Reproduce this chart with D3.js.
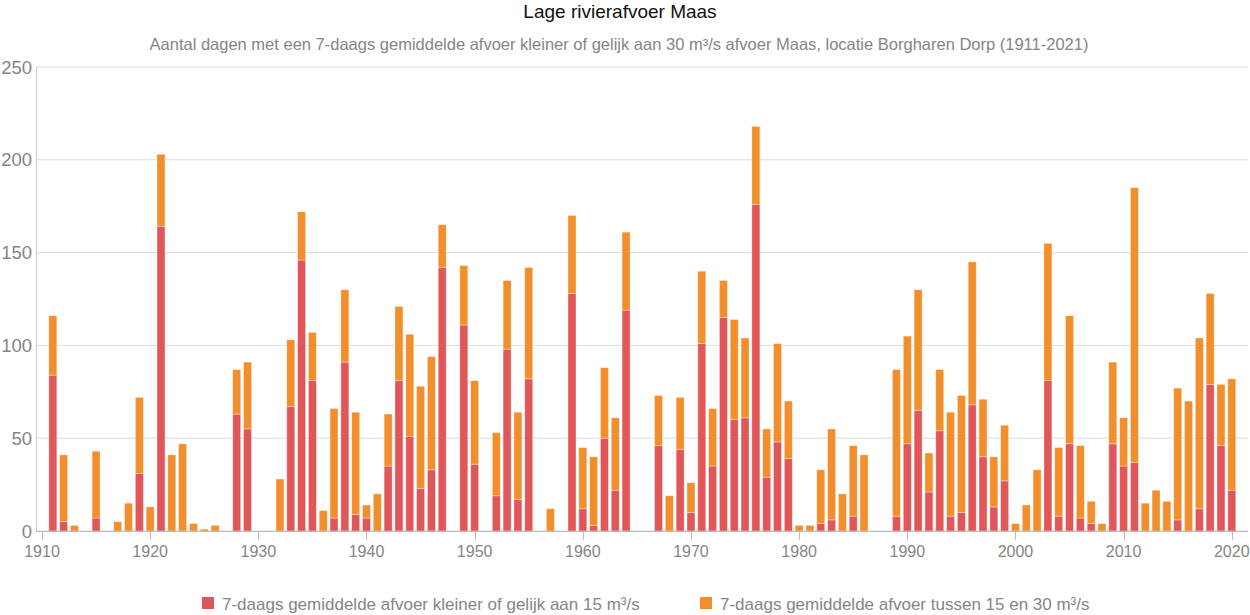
<!DOCTYPE html>
<html><head><meta charset="utf-8">
<script src="https://cdn.jsdelivr.net/npm/d3@7"></script>
<style>body{margin:0;background:#fff;font-family:"Liberation Sans",Arial,sans-serif;}</style>
</head><body><svg id="c" width="1250" height="615"></svg>
<script>
const years = d3.range(1911, 2022);
// totals (days <= 30 m3/s) and red part (days <= 15 m3/s)
const total = [116,41,3,0,43,0,5,15,72,13,203,41,47,4,1,3,0,87,91,0,
0,28,103,172,107,11,66,130,64,14,20,63,121,106,78,94,165,0,143,81,
0,53,135,64,142,0,12,0,170,45,40,88,61,161,0,0,73,19,72,26,
140,66,135,114,104,218,55,101,70,3,3,33,55,20,46,41,0,0,87,105,
130,42,87,64,73,145,71,40,57,4,14,33,155,45,116,46,16,4,91,61,
185,15,22,16,77,70,104,128,79,82,0];
const low = [84,5,0,0,7,0,0,0,31,0,164,0,0,0,0,0,0,63,55,0,
0,0,67,146,81,0,7,91,9,7,0,35,81,51,23,33,142,0,111,36,
0,19,98,17,82,0,0,0,128,12,3,50,22,119,0,0,46,0,44,10,
101,35,115,60,61,176,29,48,39,0,0,4,6,0,8,0,0,0,8,47,
65,21,54,8,10,68,40,13,27,0,0,0,81,8,47,7,4,0,47,35,
37,0,0,0,6,0,12,79,46,22,0];
const mid = total.map((t,i)=>t-low[i]);
const seriesNames = ["7-daags gemiddelde afvoer kleiner of gelijk aan 15 m³/s","7-daags gemiddelde afvoer tussen 15 en 30 m³/s"];
const colors = ["#e15759","#f28e2b"];
const yTicks = [0,50,100,150,200,250];
const xTicks = d3.range(1910, 2021, 10);

const svg = d3.select("#c");
const x = d3.scaleLinear().domain([1909.5, 2021.5]).range([36.6, 1248]);
const y = d3.scaleLinear().domain([0,250]).range([531, 67]);
const grey = "#858585";

svg.append("text").attr("x",620).attr("y",18).attr("text-anchor","middle")
  .attr("font-size",19).attr("fill","#111").text("Lage rivierafvoer Maas");
svg.append("text").attr("x",619).attr("y",50).attr("text-anchor","middle")
  .attr("font-size",16.5).attr("fill",grey)
  .text("Aantal dagen met een 7-daags gemiddelde afvoer kleiner of gelijk aan 30 m³/s afvoer Maas, locatie Borgharen Dorp (1911-2021)");

// grid
svg.append("g").selectAll("line").data(yTicks).join("line")
  .attr("x1",36.6).attr("x2",1248).attr("y1",d=>y(d)).attr("y2",d=>y(d))
  .attr("stroke","#dcdcdc").attr("stroke-width",1);
svg.append("line").attr("x1",36.5).attr("x2",36.5).attr("y1",y(250)).attr("y2",y(0)).attr("stroke","#ccc");

// y labels
svg.append("g").selectAll("text").data(yTicks).join("text")
  .attr("x",32).attr("y",d=>y(d)+6.5).attr("text-anchor","end")
  .attr("font-size",18.5).attr("fill",grey).text(d=>d);

// bars
const stackData = years.map((yr,i)=>({year:yr, low:low[i], mid:mid[i]}));
const stack = d3.stack().keys(["low","mid"])(stackData);
const bw = 8;
svg.append("g").selectAll("g").data(stack).join("g")
  .attr("fill",(d,i)=>colors[i])
  .selectAll("rect").data(d=>d.filter(p=>p[1]-p[0]>0)).join("rect")
  .attr("x",d=>x(d.data.year)-bw/2).attr("width",bw)
  .attr("y",d=>y(d[1])).attr("height",d=>y(d[0])-y(d[1]))
  .attr("stroke","rgba(255,255,255,0.45)").attr("stroke-width",0.8);

// x axis
svg.append("line").attr("x1",36.6).attr("x2",1248).attr("y1",531.5).attr("y2",531.5).attr("stroke","#bbb");
const xa = svg.append("g");
xa.selectAll("line").data(xTicks).join("line")
  .attr("x1",d=>Math.round(x(d))+0.5).attr("x2",d=>Math.round(x(d))+0.5).attr("y1",531).attr("y2",540).attr("stroke","#bbb");
xa.selectAll("text").data(xTicks).join("text")
  .attr("x",d=>x(d)).attr("y",557).attr("text-anchor","middle")
  .attr("font-size",16).attr("fill",grey).text(d=>d);

// legend
const legX = [202, 700];
const lg = svg.append("g").selectAll("g").data(seriesNames).join("g")
  .attr("transform",(d,i)=>`translate(${legX[i]},597)`);
lg.append("rect").attr("width",12).attr("height",12).attr("fill",(d,i)=>colors[i]);
lg.append("text").attr("x",20).attr("y",12.5).attr("font-size",17).attr("fill",grey).text(d=>d);
</script></body></html>
